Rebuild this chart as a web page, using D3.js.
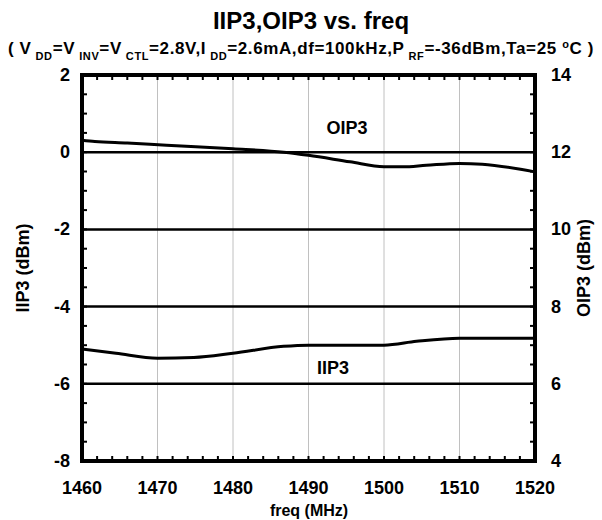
<!DOCTYPE html>
<html><head><meta charset="utf-8">
<script src="https://cdn.jsdelivr.net/npm/d3@7"></script>
<style>body{margin:0;background:#fff}svg{display:block}text{font-family:"Liberation Sans",Arial,sans-serif;font-weight:bold}</style>
</head><body>
<svg id="c" width="602" height="520"></svg>
<script>
const freqTicks = [1460,1470,1480,1490,1500,1510,1520];
const iip3Ticks = [2,0,-2,-4,-6,-8];
const oip3Ticks = [14,12,10,8,6,4];
const oip3Freq = [1460,1461.7,1466,1471.2,1480,1486.7,1490,1495.5,1500,1502.5,1505.6,1510,1513,1520];
const oip3Vals = [12.31,12.28,12.24,12.18,12.09,12.0,11.92,11.75,11.62,11.62,11.66,11.71,11.69,11.49];
const iip3Freq = [1460,1464.5,1470,1474.8,1480,1486.7,1490,1500,1504.3,1510,1520];
const iip3Vals = [-5.10,-5.21,-5.34,-5.32,-5.21,-5.03,-5.00,-5.00,-4.90,-4.82,-4.82];

const svg = d3.select("#c");
const L=82,R=535,T=75,B=461;
const x = d3.scaleLinear().domain([1460,1520]).range([L,R]);
const yL = d3.scaleLinear().domain([-8,2]).range([B,T]);
const yR = d3.scaleLinear().domain([4,14]).range([B,T]);

// vertical grid
svg.append("g").selectAll("line").data(freqTicks.slice(1,-1)).join("line")
  .attr("x1",d=>x(d)).attr("x2",d=>x(d)).attr("y1",T).attr("y2",B)
  .attr("stroke","#c0c0c0").attr("stroke-width",1);
// major horizontal lines
svg.append("g").selectAll("line").data(iip3Ticks.slice(1,-1)).join("line")
  .attr("x1",L).attr("x2",R).attr("y1",d=>yL(d)).attr("y2",d=>yL(d))
  .attr("stroke","#000").attr("stroke-width",2.5);
// minor ticks
svg.append("g").selectAll("line").data(d3.range(-8,2.01,0.5)).join("line")
  .attr("x1",L).attr("x2",L+5).attr("y1",d=>yL(d)).attr("y2",d=>yL(d)).attr("stroke","#000").attr("stroke-width",2);
svg.append("g").selectAll("line").data(d3.range(4,14.01,0.5)).join("line")
  .attr("x1",R).attr("x2",R-5).attr("y1",d=>yR(d)).attr("y2",d=>yR(d)).attr("stroke","#000").attr("stroke-width",2);
const minorX = d3.range(1460,1520.01,2);
svg.append("g").selectAll("line").data(minorX).join("line")
  .attr("x1",d=>x(d)).attr("x2",d=>x(d)).attr("y1",B).attr("y2",B-5).attr("stroke","#000").attr("stroke-width",2);
svg.append("g").selectAll("line").data(minorX).join("line")
  .attr("x1",d=>x(d)).attr("x2",d=>x(d)).attr("y1",T).attr("y2",T+5).attr("stroke","#000").attr("stroke-width",2);

// curves
const lineO = d3.line().x((d,i)=>x(oip3Freq[i])).y(d=>yR(d)).curve(d3.curveMonotoneX);
const lineI = d3.line().x((d,i)=>x(iip3Freq[i])).y(d=>yL(d)).curve(d3.curveMonotoneX);
svg.append("path").attr("d",lineO(oip3Vals)).attr("fill","none").attr("stroke","#000").attr("stroke-width",3);
svg.append("path").attr("d",lineI(iip3Vals)).attr("fill","none").attr("stroke","#000").attr("stroke-width",3);

// frame
svg.append("rect").attr("x",L).attr("y",T).attr("width",R-L).attr("height",B-T)
  .attr("fill","none").attr("stroke","#000").attr("stroke-width",4);

// tick labels
svg.append("g").selectAll("text").data(iip3Ticks).join("text")
  .attr("x",L-12).attr("y",d=>yL(d)+6).attr("text-anchor","end").attr("font-size",18).text(d=>d);
svg.append("g").selectAll("text").data(oip3Ticks).join("text")
  .attr("x",R+16).attr("y",d=>yR(d)+6).attr("text-anchor","start").attr("font-size",18).text(d=>d);
svg.append("g").selectAll("text").data(freqTicks).join("text")
  .attr("x",d=>x(d)).attr("y",494).attr("text-anchor","middle").attr("font-size",18).text(d=>d);

// axis titles
svg.append("text").attr("transform",`translate(29,${(T+B)/2}) rotate(-90)`).attr("text-anchor","middle").attr("font-size",18).text("IIP3 (dBm)");
svg.append("text").attr("transform",`translate(590,${(T+B)/2}) rotate(-90)`).attr("text-anchor","middle").attr("font-size",18).text("OIP3 (dBm)");
svg.append("text").attr("x",309).attr("y",516).attr("text-anchor","middle").attr("font-size",16).text("freq (MHz)");

// series labels
svg.append("text").attr("x",347).attr("y",134).attr("text-anchor","middle").attr("font-size",18).text("OIP3");
svg.append("text").attr("x",333).attr("y",374).attr("text-anchor","middle").attr("font-size",18).text("IIP3");

// title
svg.append("text").attr("x",311).attr("y",29).attr("text-anchor","middle").attr("font-size",24).text("IIP3,OIP3 vs. freq");
const sub = svg.append("text").attr("x",8).attr("y",54).attr("text-anchor","start").attr("font-size",17);
const parts = [["( V",0],["DD",1],["=V",0],["INV",1],["=V",0],["CTL",1],["=2.8V,I",0],["DD",1],["=2.6mA,df=100kHz,P",0],["RF",1],["=-36dBm,Ta=25 ",0],["o",2],["C )",0]];
let shift = 0;
parts.forEach(([t,k])=>{
  const ts = sub.append("tspan").text(t);
  let target = k===1?6:(k===2?-6:0);
  ts.attr("dy",target-shift);
  if(k===1){ts.attr("font-size",11).attr("dx",4);}
  if(k===2){ts.attr("font-size",11);}
  shift = target;
});
const w = sub.node().getBBox().width;
const nChars = parts.reduce((a,p)=>a+p[0].length,0);
sub.attr("letter-spacing",(586-w)/nChars);
</script>
</body></html>
